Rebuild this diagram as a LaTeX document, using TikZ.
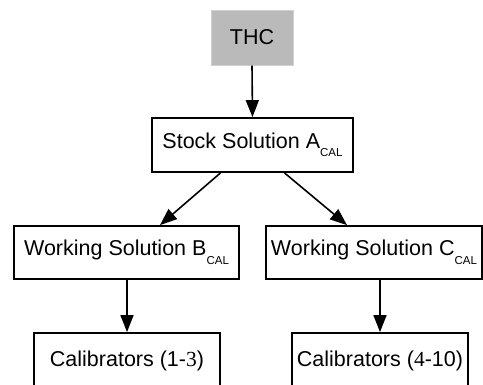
\documentclass[tikz,border=0pt]{standalone}
\usepackage{fontspec}
\setmainfont{Liberation Sans}
\newfontfamily\serifnum{Liberation Serif}
\usetikzlibrary{arrows.meta}
\newcommand{\calsub}{\raisebox{-8.5pt}{\fontsize{11.5}{12}\selectfont CAL}}
\tikzset{
  box/.style={draw=black, line width=1.8pt, fill=white, inner sep=0pt, font=\fontsize{21.5}{25}\selectfont},
  srcbox/.style={draw=black!18, line width=1pt, fill=black!27, inner sep=0pt, font=\fontsize{21.5}{25}\selectfont},
  arr/.style={line width=1.6pt, -{Triangle[length=17pt,width=13pt]}}
}
\begin{document}
\begin{tikzpicture}[x=1pt,y=-1pt]
\useasboundingbox (0,0) rectangle (483,384);
\clip (0,0) rectangle (483,384);
\node[srcbox, minimum width=82pt, minimum height=55pt] (thc) at (252,37.5) {THC};
\node[box, minimum width=201pt, minimum height=54pt] (stock) at (252.5,145) {Stock Solution A\calsub};
\node[box, minimum width=225pt, minimum height=53pt] (wb) at (126.5,252.5) {Working Solution B\calsub};
\node[box, minimum width=216pt, minimum height=53pt] (wc) at (374,252.5) {Working Solution C\calsub};
\node[box, minimum width=186pt, minimum height=56pt] (c1) at (127,361) {Calibrators (1-{\serifnum 3})};
\node[box, minimum width=176pt, minimum height=56pt] (c2) at (380,361) {Calibrators ({\serifnum 4}-10)};
\draw[arr] (thc.south) -- (stock.north);
\draw[arr] ([xshift=-32pt]stock.south) -- ([xshift=33.5pt]wb.north);
\draw[arr] ([xshift=32pt]stock.south) -- ([xshift=-27pt]wc.north);
\draw[arr] (wb.south -| c1.north) -- (c1.north);
\draw[arr] (wc.south -| c2.north) -- (c2.north);
\end{tikzpicture}
\end{document}
